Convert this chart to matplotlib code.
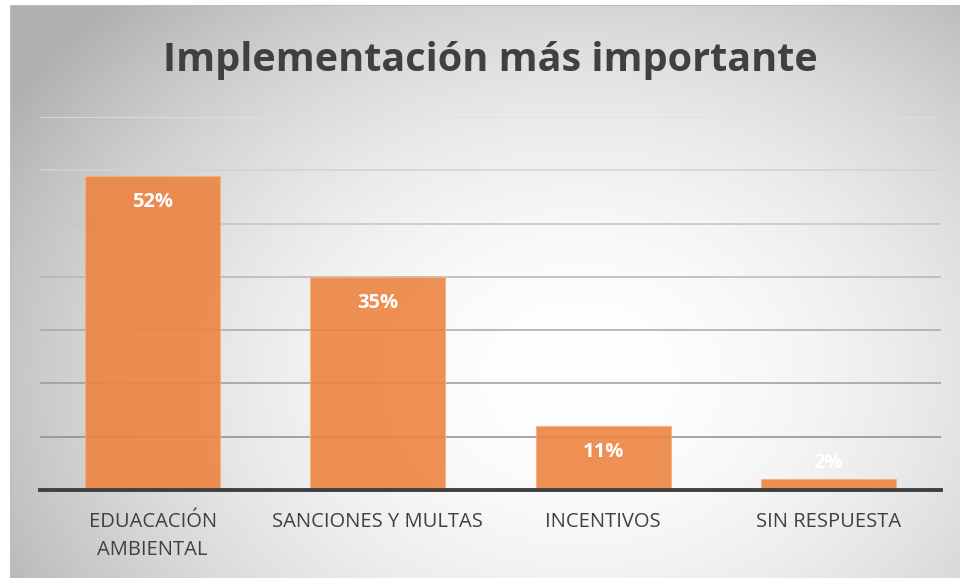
import numpy as np
import matplotlib.pyplot as plt

categories = ['EDUACACIÓN\nAMBIENTAL', 'SANCIONES Y MULTAS', 'INCENTIVOS', 'SIN RESPUESTA']
counts = [59, 40, 12, 2]
pct_labels = ['52%', '35%', '11%', '2%']

W, H = 960, 578
fig = plt.figure(figsize=(W / 100, H / 100), dpi=100)
fig.patch.set_facecolor('white')

# radial gradient background of the chart area
bg = fig.add_axes([10 / W, 0, (W - 10) / W, (H - 5) / H])
gx, gy = np.meshgrid(np.linspace(0, 1, 400), np.linspace(0, 1, 300))
r = np.sqrt(((gx - 0.6) / 0.62) ** 2 + ((gy - 0.35) / 0.8) ** 2)
shade = 1.0 - 0.24 * np.clip(r, 0, 1.15) ** 1.9
bg.imshow(np.dstack([shade] * 3), extent=[0, 1, 0, 1], origin='lower', aspect='auto')
bg.set_xlim(0, 1)
bg.set_ylim(0, 1)
bg.set_xticks([])
bg.set_yticks([])
for s in ['right', 'bottom']:
    bg.spines[s].set_visible(False)
bg.spines['top'].set_color('#bfbfbf')
bg.spines['left'].set_color('#bfbfbf')
bg.set_zorder(0)

ax = fig.add_axes([40 / W, (H - 490) / H, 901 / W, 373 / H])
ax.set_facecolor('none')
ax.set_zorder(1)

x = np.arange(len(categories))
ax.set_xlim(-0.5, len(categories) - 0.5)
ax.set_ylim(0, 70)

# gridlines, fading towards the top
for i, g in enumerate(range(10, 80, 10)):
    shade_g = 0.55 + 0.055 * i
    ax.axhline(g, color=str(shade_g), lw=1.1, zorder=1)

bars = ax.bar(x, counts, width=0.6, color='#ED8441', alpha=0.9,
              edgecolor='#F4B083', linewidth=0.8, zorder=2)

for xi, v, lab in zip(x, counts, pct_labels):
    ax.text(xi, max(v - 4.9, 5.0), lab, ha='center', va='center', color='white',
            fontsize=14.5, fontweight='bold', family='Open Sans', zorder=3)

ax.axhline(0, color='#404040', lw=2.8, zorder=3, clip_on=False)

for s in ax.spines.values():
    s.set_visible(False)
ax.set_yticks([])
ax.set_xticks(x)
ax.set_xticklabels(categories, fontsize=14.5, color='#404040', family='Open Sans',
                   linespacing=1.5)
ax.tick_params(axis='x', length=0, pad=16)

fig.text(490 / W, 1 - 60 / H, 'Implementación más importante', ha='center', va='center',
         fontsize=28.5, fontweight='bold', color='#404040', family='Open Sans')

fig.savefig('out.png', dpi=100, facecolor='white')
